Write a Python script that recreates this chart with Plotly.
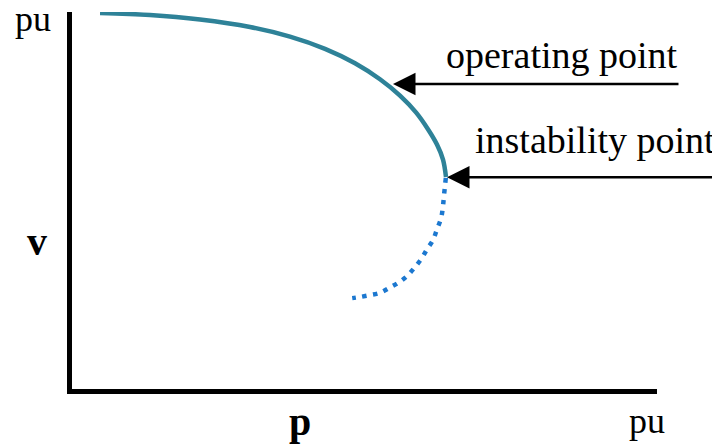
import plotly.graph_objects as go

# Stable branch (upper part of PV nose curve), per-unit
p_stable = [0.0479, 0.1333, 0.2188, 0.3043, 0.3726, 0.4325, 0.4838, 0.5265, 0.5607, 0.5880, 0.6085, 0.6239, 0.6342, 0.6393]
v_stable = [0.9973, 0.9920, 0.9801, 0.9602, 0.9347, 0.9023, 0.8641, 0.8216, 0.7781, 0.7336, 0.6890, 0.6484, 0.6086, 0.5625]

# Unstable branch (lower part, dotted)
p_unstable = [0.639, 0.636, 0.634, 0.631, 0.624, 0.617, 0.607, 0.597, 0.585, 0.573, 0.557, 0.542, 0.526, 0.509, 0.492, 0.479]
v_unstable = [0.560, 0.515, 0.483, 0.454, 0.424, 0.395, 0.371, 0.345, 0.321, 0.300, 0.281, 0.268, 0.255, 0.249, 0.244, 0.241]

# Marked points
operating_point = (0.5487, 0.809)
instability_point = (0.641, 0.562)

TEAL = "#2E8298"
BLUE = "#1C78D0"
SERIF = "Liberation Serif, Times New Roman, serif"

fig = go.Figure()
fig.add_trace(go.Scatter(x=p_stable, y=v_stable, mode="lines",
                         line=dict(color=TEAL, width=4.5, shape="spline", smoothing=1),
                         hoverinfo="skip", showlegend=False))
fig.add_trace(go.Scatter(x=p_unstable, y=v_unstable, mode="lines",
                         line=dict(color=BLUE, width=4.5, dash="4.5px,6.5px", shape="spline"),
                         hoverinfo="skip", showlegend=False))

# Arrows
fig.add_annotation(x=operating_point[0], y=operating_point[1], xref="x", yref="y",
                   ax=287, ay=0, text="", showarrow=True, arrowhead=2,
                   arrowsize=1.8, arrowwidth=2.5, arrowcolor="black")
fig.add_annotation(x=instability_point[0], y=instability_point[1], xref="x", yref="y",
                   ax=280, ay=0, text="", showarrow=True, arrowhead=2,
                   arrowsize=1.8, arrowwidth=2.5, arrowcolor="black")

labels = [
    ("operating point", 0.838, 0.885, False, 38),
    ("instability point", 0.894, 0.660, False, 38),
    ("pu", -0.066, 0.982, False, 36),
    ("pu", 0.983, -0.085, False, 36),
    ("v", -0.059, 0.390, True, 40),
    ("p", 0.390, -0.0875, True, 40),
]
for txt, px, py, bold, size in labels:
    fig.add_annotation(x=px, y=py, xref="paper", yref="paper",
                       text=f"<b>{txt}</b>" if bold else txt,
                       showarrow=False, xanchor="center", yanchor="middle",
                       font=dict(family=SERIF, size=size, color="black"))

fig.update_xaxes(range=[0, 1], showline=True, linewidth=5, linecolor="black",
                 showgrid=False, zeroline=False, showticklabels=False, ticks="",
                 mirror=False)
fig.update_yaxes(range=[0, 1], showline=True, linewidth=5, linecolor="black",
                 showgrid=False, zeroline=False, showticklabels=False, ticks="",
                 mirror=False)

# The page body adds an 8px offset, so the figure is sized to the visible area
fig.update_layout(width=712, height=438,
                  margin=dict(l=64, r=63, t=4, b=57),
                  paper_bgcolor="white", plot_bgcolor="white")

fig.write_html("out.html")
